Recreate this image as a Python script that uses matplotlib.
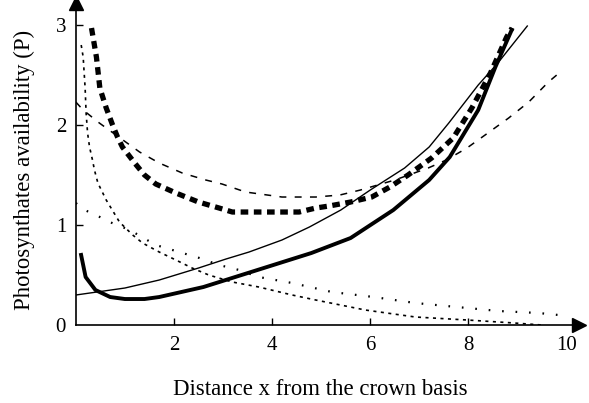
import matplotlib
matplotlib.use("Agg")
import matplotlib.pyplot as plt

plt.rcParams['font.family'] = ['Liberation Serif', 'DejaVu Serif']
plt.rcParams['lines.scale_dashes'] = False

# Thin solid curve
thin_x = [0.0, 1.0, 1.7, 2.5, 3.06, 3.53, 4.2, 4.76, 5.4, 6.0, 6.7, 7.2, 7.6, 8.2, 8.6, 9.2]
thin_y = [0.30, 0.37, 0.45, 0.57, 0.66, 0.73, 0.85, 0.98, 1.15, 1.35, 1.57, 1.78, 2.02, 2.40, 2.62, 2.99]

# Thick solid curve
thick_x = [0.1, 0.2, 0.4, 0.7, 1.0, 1.4, 1.7, 2.6, 3.7, 4.8, 5.6, 6.47, 7.2, 7.62, 7.83, 8.2, 8.55, 8.9]
thick_y = [0.72, 0.48, 0.35, 0.28, 0.26, 0.26, 0.28, 0.38, 0.55, 0.72, 0.87, 1.15, 1.45, 1.68, 1.85, 2.15, 2.58, 2.97]

# Heavy dashed curve
heavy_x = [0.32, 0.42, 0.49, 0.62, 0.75, 0.85, 0.95, 1.2, 1.4, 1.63, 2.04, 2.5, 2.92, 3.19, 3.53, 4.0, 4.55,
           4.89, 5.16, 5.6, 6.03, 6.4, 6.77, 7.25, 7.69, 8.07, 8.45, 8.78, 8.89]
heavy_y = [2.97, 2.68, 2.37, 2.17, 2.0, 1.88, 1.78, 1.62, 1.5, 1.41, 1.32, 1.23, 1.17, 1.13, 1.13, 1.13, 1.13,
           1.17, 1.19, 1.23, 1.28, 1.38, 1.5, 1.67, 1.87, 2.17, 2.52, 2.88, 2.97]

# Medium dashed curve
med_x = [0.0, 0.15, 0.48, 1.3, 1.7, 2.17, 2.65, 2.98, 3.46, 4.2, 4.89, 5.38, 5.8, 6.5, 7.18, 7.55, 7.97, 8.34, 8.82, 9.23, 9.63, 9.8]
med_y = [2.23, 2.15, 2.02, 1.73, 1.62, 1.52, 1.45, 1.41, 1.33, 1.28, 1.28, 1.30, 1.35, 1.45, 1.57, 1.65, 1.77, 1.9, 2.07, 2.23, 2.43, 2.5]

# Slashed curve
slash_x = [0.11, 0.15, 0.19, 0.21, 0.24, 0.28, 0.34, 0.38, 0.45, 0.62, 0.89, 1.16, 1.36, 1.7, 2.04, 2.37, 2.71,
           3.19, 3.73, 4.41, 4.89, 5.9, 6.92, 7.98, 8.94, 9.5]
slash_y = [2.8, 2.68, 2.37, 2.12, 1.92, 1.78, 1.65, 1.55, 1.42, 1.25, 1.03, 0.9, 0.82, 0.73, 0.65, 0.57, 0.5,
           0.43, 0.38, 0.3, 0.25, 0.15, 0.08, 0.05, 0.02, 0.0]

# Dotted curve
dot_x = [0.0, 0.18, 0.41, 0.69, 1.1, 1.63, 1.97, 2.52, 2.92, 3.33, 3.73, 4.41, 5.22, 6.07, 6.92, 7.77, 8.62, 9.43, 9.84]
dot_y = [1.22, 1.15, 1.1, 1.03, 0.95, 0.8, 0.75, 0.67, 0.6, 0.55, 0.48, 0.42, 0.33, 0.28, 0.22, 0.18, 0.14, 0.12, 0.1]

xticks = [2, 4, 6, 8, 10]
yticks = [0, 1, 2, 3]

fig = plt.figure(figsize=(5.89, 4.03), dpi=100)
ax = fig.add_axes([0.1287, 0.1935, 0.854, 0.799])

ax.plot(thin_x, thin_y, color='black', lw=1.0)
ax.plot(thick_x, thick_y, color='black', lw=2.8, solid_capstyle='butt')
ax.plot(heavy_x, heavy_y, color='black', lw=3.8, dashes=(5.5, 4.0), dash_capstyle='butt')
ax.plot(med_x, med_y, color='black', lw=1.1, dashes=(5, 6))
ax.plot(slash_x, slash_y, color='black', lw=1.2, dashes=(2.2, 3.2))
ax.plot(dot_x, dot_y, color='black', lw=1.6, dashes=(1.2, 8.5))

ax.set_xlim(0, 10.25)
ax.set_ylim(0, 3.22)
ax.spines['top'].set_visible(False)
ax.spines['right'].set_visible(False)
ax.spines['left'].set_linewidth(1.2)
ax.spines['bottom'].set_linewidth(1.2)

ax.set_xticks(xticks)
ax.set_xticklabels([str(t) for t in xticks])
ax.set_yticks(yticks)
ax.set_yticklabels([str(t) for t in yticks])
ax.tick_params(axis='both', direction='in', length=5, width=1, labelsize=15)
ax.tick_params(axis='x', pad=8)
ax.tick_params(axis='y', pad=7)
ax.xaxis.get_major_ticks()[-1].tick1line.set_visible(False)
ax.yaxis.get_major_ticks()[0].tick1line.set_visible(False)

ax.plot(1, 0, marker='>', color='black', markersize=10, transform=ax.get_yaxis_transform(), clip_on=False)
ax.plot(0, 1, marker='^', color='black', markersize=10, transform=ax.get_xaxis_transform(), clip_on=False)

fig.text(0.543, 0.02, 'Distance x from the crown basis', ha='center', va='baseline', fontsize=16.4)
fig.text(0.042, 0.578, 'Photosynthates availability (P)', ha='center', va='center', rotation=90, fontsize=16.4)

fig.savefig('out.png', dpi=100)
